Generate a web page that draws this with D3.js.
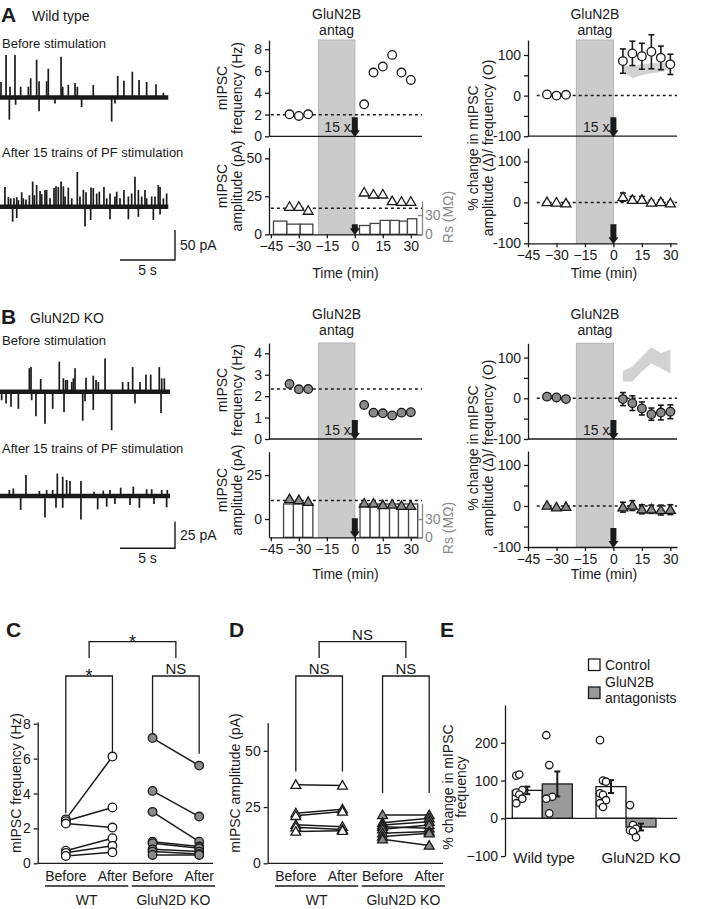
<!DOCTYPE html>
<html><head><meta charset="utf-8">
<script src="https://cdn.jsdelivr.net/npm/d3@7"></script>
<style>body{margin:0;background:#fff}</style>
</head><body>
<script>
const FONT = '"Liberation Sans", Arial, Helvetica, sans-serif';
const BLACK = '#1a1a1a';
const GREY_MARK = '#8a8a8a';
const SHADE = '#cbcbcb';
const BAND = '#d2d2d2';

// ---------------- DATA ----------------
// Example traces: [time (s), amplitude (pA)]; + upward, - downward events
const wtBeforeEvents = [[0.09,26],[0.55,71],[0.91,18],[1.36,71],[1.88,18],[2.58,18],[2.79,32],[3.33,63],[3.55,27],[4.24,27],[4.39,48],[5.55,68],[5.70,18],[6.21,21],[6.82,24],[7.03,18],[8.48,21],[10.70,36],[11.27,28],[12.03,43],[12.64,29],[13.33,26],[14.18,22],[14.85,8],[0.85,-37],[1.42,-12],[3.55,-23],[5.0,-10],[7.42,-16],[10.15,-40],[10.45,-10]];
const wtAfterEvents = [[0.45,33],[0.76,16],[0.97,14],[1.27,14],[1.52,16],[1.67,11],[1.97,24],[2.12,14],[2.36,12],[2.67,19],[2.97,42],[3.12,19],[3.33,36],[3.64,26],[3.79,21],[4.09,28],[4.24,28],[4.55,14],[4.91,31],[5.09,34],[5.30,33],[5.55,42],[5.76,34],[5.91,17],[6.21,32],[6.52,14],[7.03,58],[7.27,17],[7.58,28],[7.82,24],[8.27,32],[8.48,31],[8.79,22],[9.03,25],[9.45,33],[9.70,14],[10.0,22],[10.45,17],[10.61,25],[10.91,14],[11.27,28],[11.67,17],[11.97,22],[12.27,50],[12.58,28],[12.88,17],[13.18,28],[13.33,14],[13.79,17],[14.09,17],[14.39,36],[14.55,33],[14.85,14],[15.15,22],[1.15,-25],[1.52,-19],[7.73,-33],[8.24,-22],[10.0,-21],[11.67,-21],[12.58,-17],[13.94,-22],[14.55,-13]];
const koBeforeEvents = [[2.67,22],[2.82,23],[3.70,12],[5.39,28],[5.76,12.5],[5.97,11],[6.12,11],[6.52,9],[6.67,12.5],[6.82,22],[7.82,13],[8.48,15],[8.73,11],[8.94,9],[9.55,31],[11.15,9],[11.67,9],[12.06,23],[12.73,9],[13.27,16],[13.70,16],[14.48,23],[14.70,12.5],[14.94,12.5],[0.15,-8],[0.55,-11],[1.0,-14],[1.67,-16],[2.88,-8],[3.27,-23],[4.09,-30],[4.79,-16],[5.82,-19],[7.52,-27],[7.73,-9],[8.48,-17],[10.15,-36],[12.27,-11],[14.64,-20]];
const koAfterEvents = [[0.85,5.6],[1.21,7],[2.36,19.7],[3.58,4.7],[4.24,5.6],[4.79,5.6],[5.21,21],[5.70,18],[6.06,15],[6.36,14],[7.36,14],[8.55,4],[9.39,5],[10.0,5.6],[10.97,7.8],[12.12,8.8],[13.33,6.3],[13.79,6.3],[14.70,5.6],[15.21,5.6],[1.88,-13],[4.09,-20],[5.09,-11],[5.70,-11],[7.36,-22],[8.88,-12.5],[9.70,-10],[10.45,-7.5],[11.82,-8.4],[12.67,-11],[14.0,-7.5],[15.15,-10.6]];
const traceDurations = [15.3, 15.45]; // s (WT, KO)

// Time courses (min)
const timeMin = [-35,-30,-25,5,10,15,20,25,30];
const antagWindow = [-19.5, 0];
const wtFreqHz = [2.02,1.87,2.02,2.94,5.86,6.41,7.48,5.86,5.18];
const wtFreqRef = 1.97;
const wtAmpPA = [18.2,18.2,15.6,27.6,26.3,26.3,21.9,21.5,21.5];
const wtAmpRef = 17.1;
const wtRsEdges = [[-43.6,-36.4],[-36.4,-29.3],[-29.3,-22.5],[2.5,8.2],[8.2,13.6],[13.6,18.9],[18.9,23.9],[23.9,28.2],[28.2,33.2]];
const wtRsMOhm = [20.5,15.8,15.8,13.7,16.9,21.6,21.6,20.5,24.2];
const koFreqHz = [2.57,2.32,2.33,1.59,1.23,1.2,1.1,1.23,1.25];
const koFreqRef = 2.33;
const koAmpPA = [11.4,10.8,9.8,8.9,8.9,8.0,8.3,7.6,7.6];
const koAmpRef = 10.6;
const koRsEdges = [[-38.2,-32.9],[-32.9,-27.9],[-27.9,-22.5],[2.8,8.2],[8.2,13.2],[13.2,18.6],[18.6,23.4],[23.4,28.8],[28.8,33.7]];
const koRsMOhm = [54.6,54.6,54.6,54.6,54.6,54.6,54.6,54.6,54.6];

// % change (mean, SEM)
const wtFreqPct = [3,0,2,85,104,97,108,93,77];
const wtFreqPctErr = [0,0,0,30,30,32,42,29,25];
const wtAmpPct = [1,0,-2,13,6.5,6.5,0,1,-2];
const wtAmpPctErr = [0,0,0,10,8,8,5,5,4];
const koFreqPct = [4,2,-2,-2,-12,-25,-39,-35,-33];
const koFreqPctErr = [0,0,0,16,18,16,15,18,17];
const koAmpPct = [1,-3,-2,-3,1,-8,-8,-10,-9];
const koAmpPctErr = [0,0,0,12,12,11,10,12,12];
const bandTimes = [5,10,15,20,25,30];
const wtBandLow = [62,43,50,55,58,65];
const wtBandHigh = [75,72,78,80,80,82];
const koBandLow = [41,41,66,86,74,61];
const koBandHigh = [67,78,102,125,111,119];

// Panel C/D (before, after) per cell
const genotypes = ['WT','GluN2D KO'];
const conditions = ['Before','After'];
const cWtBefore = [2.52,2.42,2.28,0.72,0.6,0.42];
const cWtAfter  = [6.12,3.2,2.05,1.44,1.0,0.63];
const cKoBefore = [7.18,4.15,2.95,1.24,1.15,0.8,0.67,0.48];
const cKoAfter  = [5.6,2.68,1.24,0.96,0.86,0.67,0.54,0.48];
const dWtBefore = [34.9,22.3,21.1,17.1,16.0,14.1];
const dWtAfter  = [34.6,24.0,23.0,16.3,15.0,14.5];
const dKoBefore = [21.5,18.0,17.0,16.3,15.1,13.4,11.9,10.7];
const dKoAfter  = [21.5,20.0,18.5,15.6,17.0,14.1,13.4,7.9];
const cStats = ['*','NS','*'];   // WT, KO, between
const dStats = ['NS','NS','NS'];
const cLegs = [[2.87,6.4],[7.37,6.28]];
const dLegs = [[40.8,40.8],[31.2,31.2]];

// Panel E
const eGroups = ['Wild type','GluN2D KO'];
const eConds = ['Control','GluN2B antagonists'];
const eMeans = [[74,91],[84,-23]];
const eSems = [[10,33],[17,9]];
const ePoints = [[[113,116,75,68,63,52,40],[220,141,57,52,13]],[[207,100,97,66,62,48,40,30],[35,-18,-28,-32,-35,-50]]];

// ---------------- HELPERS ----------------
const svg = d3.select('body').append('svg').attr('width',705).attr('height',909)
  .style('font-family',FONT);

function text(x,y,s,o={}){
  return svg.append('text').attr('x',x).attr('y',y).text(s)
    .attr('font-size',o.size||14).attr('text-anchor',o.anchor||'start')
    .attr('font-weight',o.weight||'normal').attr('fill',o.fill||BLACK);
}
function vtext(cx,cy,s,o={}){
  return svg.append('text').attr('transform',`translate(${cx},${cy}) rotate(-90)`)
    .attr('text-anchor','middle').attr('dy','0.35em').text(s)
    .attr('font-size',o.size||14).attr('fill',o.fill||BLACK);
}
function styleAxis(g,color=BLACK){
  g.attr('font-family',FONT).attr('font-size',14);
  g.select('.domain').attr('stroke',color).attr('stroke-width',1.3);
  g.selectAll('.tick line').attr('stroke',color).attr('stroke-width',1.3);
  g.selectAll('.tick text').attr('fill',color);
  return g;
}
function hline(x1,x2,y,o={}){
  return svg.append('line').attr('x1',x1).attr('x2',x2).attr('y1',y).attr('y2',y)
    .attr('stroke',o.stroke||BLACK).attr('stroke-width',o.w||1.3).attr('stroke-dasharray',o.dash||null);
}
function vline(x,y1,y2,o={}){
  return svg.append('line').attr('x1',x).attr('x2',x).attr('y1',y1).attr('y2',y2)
    .attr('stroke',o.stroke||BLACK).attr('stroke-width',o.w||1.3);
}
function arrow(x,yTip,len){
  const hw=5, hl=7, sw=3;
  svg.append('path').attr('d',`M${x-sw},${yTip-len} L${x+sw},${yTip-len} L${x+sw},${yTip-hl} L${x+hw},${yTip-hl} L${x},${yTip} L${x-hw},${yTip-hl} L${x-sw},${yTip-hl} Z`)
    .attr('fill',BLACK);
}
const triPath = d3.symbol().type(d3.symbolTriangle).size(42);
function marker(x,y,kind,fill){
  if(kind==='circle'){
    svg.append('circle').attr('cx',x).attr('cy',y).attr('r',4.3)
      .attr('fill',fill).attr('stroke',BLACK).attr('stroke-width',1.3);
  } else {
    svg.append('path').attr('d',triPath()).attr('transform',`translate(${x},${y+0.8})`)
      .attr('fill',fill).attr('stroke',BLACK).attr('stroke-width',1.3);
  }
}
const intFmt = d3.format('d');

// ---------------- TRACES ----------------
function drawTrace(events, baseY, pxPerPA, dur){
  const xs = d3.scaleLinear().domain([0,dur]).range([0, dur*11]);
  const ys = d3.scaleLinear().domain([0,50]).range([baseY, baseY-50*pxPerPA]);
  svg.append('line').attr('x1',xs(0)).attr('x2',xs(dur)).attr('y1',ys(0)).attr('y2',ys(0))
    .attr('stroke',BLACK).attr('stroke-width',4.5);
  svg.append('g').selectAll('line').data(events).join('line')
    .attr('x1',d=>xs(d[0])).attr('x2',d=>xs(d[0]))
    .attr('y1',ys(0)).attr('y2',d=>ys(d[1]))
    .attr('stroke',BLACK).attr('stroke-width',1.7);
  return {xs, ys};
}
function scaleBar(sc, barPA, yBottom, label){
  const xr = 175, len = sc.xs(5)-sc.xs(0), hgt = sc.ys(0)-sc.ys(barPA);
  svg.append('path').attr('d',`M${xr-len},${yBottom} L${xr},${yBottom} L${xr},${yBottom-hgt}`)
    .attr('fill','none').attr('stroke',BLACK).attr('stroke-width',1.4);
  text(xr+5, yBottom-hgt/2+5, label, {size:14});
  text(xr-len/2, yBottom+15, '5 s', {size:14, anchor:'middle'});
}

// Panel A / B traces
text(1,21.5,'A',{size:21,weight:'bold'});
text(32,20.5,'Wild type',{size:14});
text(2,48,'Before stimulation',{size:13});
text(2,157,'After 15 trains of PF stimulation',{size:13});
drawTrace(wtBeforeEvents, 97.5, 0.6, traceDurations[0]);
const scA = drawTrace(wtAfterEvents, 206.7, 0.6, traceDurations[0]);
scaleBar(scA, 50, 260, '50 pA');

text(1,323.5,'B',{size:21,weight:'bold'});
text(30,323,'GluN2D KO',{size:14});
text(2,345,'Before stimulation',{size:13});
text(2,453,'After 15 trains of PF stimulation',{size:13});
drawTrace(koBeforeEvents, 391.7, 1.07, traceDurations[1]);
const scB = drawTrace(koAfterEvents, 496, 1.07, traceDurations[1]);
scaleBar(scB, 25, 548.3, '25 pA');

// ---------------- TIME COURSE PANELS ----------------
function shadeAndLabel(x, yTop, yBot, labY){
  svg.append('rect').attr('x',x(antagWindow[0])).attr('y',yTop)
    .attr('width',x(antagWindow[1])-x(antagWindow[0])).attr('height',yBot-yTop)
    .attr('fill',SHADE).attr('stroke','#b3b3b3').attr('stroke-width',1);
  const cx = (x(antagWindow[0])+x(antagWindow[1]))/2;
  text(cx,labY,'GluN2B',{anchor:'middle'});
  text(cx,labY+16,'antag',{anchor:'middle'});
}

function midPanel(o){
  const x = d3.scaleLinear().domain([-46,36]).range([269,422]);
  const yF = d3.scaleLinear().domain(o.fDom).range([o.fBase,o.fTop]);
  const yA = d3.scaleLinear().domain(o.aDom).range([o.aBase,o.aTop]);
  const yR = d3.scaleLinear().domain([0,o.rsMax]).range([o.aBase,o.aBase-o.rs30*o.rsMax/30]);
  shadeAndLabel(x, o.fTop, o.aBase, o.labY);
  // Rs bars
  svg.append('g').selectAll('rect').data(o.rs).join('rect')
    .attr('x',(d,i)=>x(o.rsEdges[i][0])).attr('width',(d,i)=>x(o.rsEdges[i][1])-x(o.rsEdges[i][0]))
    .attr('y',d=>yR(d)).attr('height',d=>yR(0)-yR(d))
    .attr('fill','#fff').attr('stroke','#444').attr('stroke-width',1.3);
  // axes
  styleAxis(svg.append('g').attr('transform','translate(269,0)')
    .call(d3.axisLeft(yF).tickValues(o.fTicks).tickFormat(intFmt).tickSize(4).tickSizeOuter(0).tickPadding(3)));
  hline(269,422,o.fBase);
  styleAxis(svg.append('g').attr('transform','translate(269,0)')
    .call(d3.axisLeft(yA).tickValues(o.aTicks).tickFormat(intFmt).tickSize(4).tickSizeOuter(0).tickPadding(3)));
  styleAxis(svg.append('g').attr('transform',`translate(0,${o.aBase})`)
    .call(d3.axisBottom(x).tickValues([-45,-30,-15,0,15,30]).tickSize(4).tickSizeOuter(0).tickPadding(3)));
  const rAx = styleAxis(svg.append('g').attr('transform','translate(422,0)')
    .call(d3.axisRight(yR).tickValues([0,30]).tickSize(-4).tickSizeOuter(0).tickPadding(2)),'#888');
  rAx.selectAll('.tick text').attr('x',3);
  // reference lines
  hline(x(-45),422,yF(o.fRef),{dash:'3,3',w:1.5});
  hline(x(-45),422,yA(o.aRef),{dash:'3,3',w:1.5});
  // markers
  timeMin.forEach((t,i)=>{ marker(x(t),yF(o.freq[i]),'circle',o.fill); });
  timeMin.forEach((t,i)=>{ marker(x(t),yA(o.amp[i]),'tri',o.fill); });
  // stimulation
  text(x(0)-4,o.fBase-4.3,'15 x',{anchor:'end'});
  arrow(x(0),o.fBase+1,20);
  arrow(x(0),o.aBase+1,o.aArrow);
  // labels
  vtext(221.7,o.fLabY,'mIPSC'); vtext(236.7,o.fLabY,'frequency (Hz)');
  vtext(221.7,o.aLabY,'mIPSC'); vtext(236.7,o.aLabY,'amplitude (pA)');
  vtext(448,o.rsLabY,'Rs (MΩ)',{fill:'#888'});
  text(345.5,o.timeY,'Time (min)',{anchor:'middle'});
}

function rightPanel(o){
  const x = d3.scaleLinear().domain([-45,33.5]).range([528,677]);
  const yF = d3.scaleLinear().domain([-100,o.fMax]).range([o.fBase,o.fTop]);
  const yA = d3.scaleLinear().domain([-100,o.aMax]).range([o.aBase,o.aTop]);
  shadeAndLabel(x, o.fTop, o.aBase, o.labY);
  // band
  const area = d3.area().x((d,i)=>x(bandTimes[i])).y0(d=>yF(d[0])).y1(d=>yF(d[1]));
  svg.append('path').datum(o.bandLow.map((v,i)=>[v,o.bandHigh[i]])).attr('d',area).attr('fill',BAND);
  const fmt = d => (d%100===0 ? d : '');
  styleAxis(svg.append('g').attr('transform','translate(528,0)')
    .call(d3.axisLeft(yF).tickValues([-100,-50,0,50,100]).tickFormat(fmt).tickSize(4).tickSizeOuter(0).tickPadding(3)));
  hline(528,677,o.fBase);
  styleAxis(svg.append('g').attr('transform','translate(528,0)')
    .call(d3.axisLeft(yA).tickValues([-100,-50,0,50,100]).tickFormat(fmt).tickSize(4).tickSizeOuter(0).tickPadding(3)));
  styleAxis(svg.append('g').attr('transform',`translate(0,${o.aBase})`)
    .call(d3.axisBottom(x).tickValues([-45,-30,-15,0,15,30]).tickSize(4).tickSizeOuter(0).tickPadding(3)));
  hline(x(-40.4),677,yF(0),{dash:'3,3',w:1.5});
  hline(x(-40.4),677,yA(0),{dash:'3,3',w:1.5});
  function series(y, vals, errs, kind){
    timeMin.forEach((t,i)=>{
      if(errs[i]>0){
        const cx=x(t), y1=y(vals[i]-errs[i]), y2=y(vals[i]+errs[i]);
        vline(cx,y1,y2,{w:1.6});
        hline(cx-3,cx+3,y1,{w:1.6}); hline(cx-3,cx+3,y2,{w:1.6});
      }
    });
    timeMin.forEach((t,i)=>marker(x(t),y(vals[i]),kind,o.fill));
  }
  series(yF,o.freq,o.freqErr,'circle');
  series(yA,o.amp,o.ampErr,'tri');
  text(x(0)-4,o.fBase-4.3,'15 x',{anchor:'end'});
  arrow(x(0),o.fBase+1,20);
  arrow(x(0),o.aBase+1,20);
  vtext(473,o.yLabY,'% change in mIPSC');
  vtext(488,o.yLabY,'amplitude (Δ)/ frequency (O)');
  text(604,o.timeY,'Time (min)',{anchor:'middle'});
}

midPanel({fDom:[0,8.85],fBase:136.3,fTop:40,aDom:[0,57],aBase:234.3,aTop:147.7,rs30:19.3,rsMax:52,
  fTicks:[0,2,4,6,8],aTicks:[0,25,50],fRef:wtFreqRef,aRef:wtAmpRef,freq:wtFreqHz,amp:wtAmpPA,
  rs:wtRsMOhm,rsEdges:wtRsEdges,fill:'#fff',aArrow:11,labY:18.5,fLabY:88,aLabY:186,rsLabY:217,timeY:278});
rightPanel({fBase:136.2,fTop:40,fMax:137,aBase:243.3,aTop:148,aMax:133,labY:18.5,
  bandLow:wtBandLow,bandHigh:wtBandHigh,freq:wtFreqPct,freqErr:wtFreqPctErr,amp:wtAmpPct,ampErr:wtAmpPctErr,
  fill:'#fff',yLabY:148,timeY:278});
midPanel({fDom:[0,4.48],fBase:439,fTop:343,aDom:[-10.4,38.3],aBase:537.3,aTop:451.7,rs30:18.3,rsMax:56,
  fTicks:[0,1,2,3,4],aTicks:[0,25],fRef:koFreqRef,aRef:koAmpRef,freq:koFreqHz,amp:koAmpPA,
  rs:koRsMOhm,rsEdges:koRsEdges,fill:GREY_MARK,aArrow:20,labY:319,fLabY:390,aLabY:490,rsLabY:528,timeY:579});
rightPanel({fBase:439,fTop:343.3,fMax:135,aBase:547,aTop:451,aMax:134,labY:319,
  bandLow:koBandLow,bandHigh:koBandHigh,freq:koFreqPct,freqErr:koFreqPctErr,amp:koAmpPct,ampErr:koAmpPctErr,
  fill:GREY_MARK,yLabY:448,timeY:579});

// ---------------- PANELS C & D ----------------
function statLabel(cx,lineY,s){
  if(s==='*') text(cx,lineY+6,s,{anchor:'middle',size:18});
  else text(cx,lineY-2,s,{anchor:'middle',size:15});
}
function pairedPanel(o){
  const y = d3.scaleLinear().domain([0,o.yMax]).range([863.3,o.yTop]);
  const g = d3.scaleBand().domain(genotypes).range(o.groupRange).paddingInner(0.04);
  const bw = g.bandwidth();
  const p = d3.scalePoint().domain(conditions).range([0.25*bw,0.81*bw]);
  const X = (gr,c)=>g(gr)+p(c);
  styleAxis(svg.append('g').attr('transform',`translate(${o.axisX},0)`)
    .call(d3.axisLeft(y).tickValues(o.ticks).tickSize(4).tickSizeOuter(0).tickPadding(3)));
  hline(o.axisX,o.axisEnd,y(0));
  // brackets
  const lowY=676, topY=641.7, topLeg=658;
  genotypes.forEach((gr,k)=>{
    const xb=X(gr,'Before'), xa=X(gr,'After');
    svg.append('path').attr('d',`M${xb},${y(o.legs[k][0])} L${xb},${lowY} L${xa},${lowY} L${xa},${y(o.legs[k][1])}`)
      .attr('fill','none').attr('stroke',BLACK).attr('stroke-width',1.3);
    statLabel((xb+xa)/2, lowY, o.stats[k]);
  });
  const c0=(X(genotypes[0],'Before')+X(genotypes[0],'After'))/2, c1=(X(genotypes[1],'Before')+X(genotypes[1],'After'))/2;
  svg.append('path').attr('d',`M${c0},${topLeg} L${c0},${topY} L${c1},${topY} L${c1},${topLeg}`)
    .attr('fill','none').attr('stroke',BLACK).attr('stroke-width',1.3);
  statLabel((c0+c1)/2, topY, o.stats[2]);
  // data
  o.data.forEach((set,k)=>{
    const gr=genotypes[k];
    set[0].forEach((b,i)=>{
      svg.append('line').attr('x1',X(gr,'Before')).attr('x2',X(gr,'After'))
        .attr('y1',y(b)).attr('y2',y(set[1][i])).attr('stroke',BLACK).attr('stroke-width',1.5);
    });
    set[0].forEach((b,i)=>{
      marker(X(gr,'Before'),y(b),o.kind,o.fills[k]);
      marker(X(gr,'After'),y(set[1][i]),o.kind,o.fills[k]);
    });
  });
  // category labels
  genotypes.forEach(gr=>{
    conditions.forEach(c=>text(X(gr,c),881,c,{anchor:'middle'}));
    hline(g(gr),g(gr)+bw,886,{w:1.3});
    text(g(gr)+bw/2,905,gr,{anchor:'middle'});
  });
  vtext(o.labX,783,o.label);
}

text(6,637,'C',{size:21,weight:'bold'});
pairedPanel({yMax:8.1,yTop:722,ticks:[0,2,4,6,8],groupRange:[45,215],axisX:37.7,axisEnd:213,
  legs:cLegs,stats:cStats,data:[[cWtBefore,cWtAfter],[cKoBefore,cKoAfter]],kind:'circle',
  fills:['#fff',GREY_MARK],labX:16,label:'mIPSC  frequency (Hz)'});
text(229,637,'D',{size:21,weight:'bold'});
pairedPanel({yMax:62.5,yTop:722.7,ticks:[0,25,50],groupRange:[275,445],axisX:267.7,axisEnd:443,
  legs:dLegs,stats:dStats,data:[[dWtBefore,dWtAfter],[dKoBefore,dKoAfter]],kind:'tri',
  fills:['#fff',GREY_MARK],labX:235,label:'mIPSC amplitude (pA)'});

// ---------------- PANEL E ----------------
text(440,637,'E',{size:21,weight:'bold'});
(function(){
  const y = d3.scaleLinear().domain([-100,300]).range([856.1,705]);
  const g = d3.scaleBand().domain(eGroups).range([505,663.3]).paddingInner(0.283).paddingOuter(0.087);
  const s = d3.scaleBand().domain(eConds).range([0,g.bandwidth()]);
  const fills = ['#fff','#9a9a9a'];
  eGroups.forEach((gr,k)=>{
    eConds.forEach((c,j)=>{
      const v=eMeans[k][j], x0=g(gr)+s(c);
      svg.append('rect').attr('x',x0).attr('width',s.bandwidth())
        .attr('y',Math.min(y(v),y(0))).attr('height',Math.abs(y(v)-y(0)))
        .attr('fill',fills[j]).attr('stroke',BLACK).attr('stroke-width',1.3);
    });
  });
  styleAxis(svg.append('g').attr('transform','translate(505,0)')
    .call(d3.axisLeft(y).tickValues([-100,0,100,200]).tickSize(4).tickSizeOuter(0).tickPadding(3)));
  hline(505,677,y(0));
  eGroups.forEach((gr,k)=>{
    eConds.forEach((c,j)=>{
      const x0=g(gr)+s(c), cx=x0+s.bandwidth()/2, v=eMeans[k][j], e=eSems[k][j];
      vline(cx,y(v-e),y(v+e),{w:2});
      hline(cx-3,cx+3,y(v-e),{w:2}); hline(cx-3,cx+3,y(v+e),{w:2});
      ePoints[k][j].forEach((pv,i)=>{
        svg.append('circle').attr('cx',x0+7+((i%3)-1)*3).attr('cy',y(pv)).attr('r',3.7)
          .attr('fill','#fff').attr('stroke',BLACK).attr('stroke-width',1.3);
      });
    });
  });
  text(g(eGroups[0])+1,863,eGroups[0],{size:15});
  text(g(eGroups[1])+5.5,863,eGroups[1],{size:15});
  // legend
  svg.append('rect').attr('x',588.5).attr('y',659).attr('width',11.5).attr('height',11.5).attr('fill','#fff').attr('stroke',BLACK).attr('stroke-width',1.3);
  svg.append('rect').attr('x',588.5).attr('y',687).attr('width',11.5).attr('height',11.5).attr('fill','#9a9a9a').attr('stroke',BLACK).attr('stroke-width',1.3);
  text(605,669.5,'Control');
  text(605,687,'GluN2B');
  text(605,703,'antagonists');
  vtext(448,787,'% change in mIPSC');
  vtext(461,787,'frequency');
})();
</script>
</body></html>
